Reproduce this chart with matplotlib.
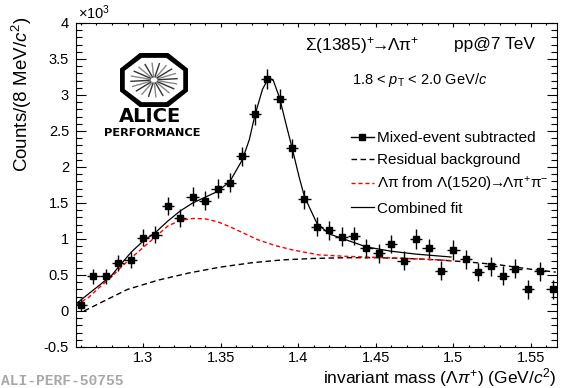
"""
Sigma(1385)+ -> Lambda pi+ invariant mass, ALICE performance plot
"""

import numpy as np
import matplotlib

matplotlib.use("Agg")
import matplotlib.pyplot as plt
from matplotlib.lines import Line2D
from matplotlib.patches import Polygon
from matplotlib.ticker import MultipleLocator, FormatStrFormatter

plt.rcParams["font.family"] = ["Liberation Sans", "DejaVu Sans"]
plt.rcParams["mathtext.fontset"] = "custom"
plt.rcParams["mathtext.rm"] = "Liberation Sans"
plt.rcParams["mathtext.it"] = "Liberation Sans:italic"
plt.rcParams["mathtext.bf"] = "Liberation Sans:bold"
plt.rcParams["axes.unicode_minus"] = False

# ── data (counts in units of 10^3, 8 MeV bins) ─────────────────
mass = [1.260, 1.268, 1.276, 1.284, 1.292, 1.300, 1.308, 1.316, 1.324, 1.332,
        1.340, 1.348, 1.356, 1.364, 1.372, 1.380, 1.388, 1.396, 1.404, 1.412,
        1.420, 1.428, 1.436, 1.444, 1.452, 1.460, 1.468, 1.476, 1.484, 1.492,
        1.500, 1.508, 1.516, 1.524, 1.532, 1.540, 1.548, 1.556, 1.564]
counts = [0.09, 0.48, 0.48, 0.67, 0.71, 1.02, 1.06, 1.46, 1.29, 1.59,
          1.53, 1.70, 1.78, 2.15, 2.73, 3.22, 2.95, 2.26, 1.55, 1.17,
          1.12, 1.03, 1.04, 0.87, 0.80, 0.93, 0.70, 1.00, 0.87, 0.56,
          0.85, 0.72, 0.54, 0.62, 0.49, 0.59, 0.30, 0.55, 0.30]
errors = [0.09, 0.10, 0.10, 0.11, 0.11, 0.12, 0.12, 0.13, 0.12, 0.13,
          0.13, 0.13, 0.13, 0.13, 0.14, 0.14, 0.14, 0.13, 0.13, 0.13,
          0.13, 0.13, 0.13, 0.13, 0.13, 0.13, 0.13, 0.14, 0.13, 0.13,
          0.14, 0.13, 0.13, 0.13, 0.13, 0.13, 0.13, 0.13, 0.13]
half_bin = 0.004

# combined fit
fit_m = [1.2568, 1.265, 1.272, 1.280, 1.2845, 1.2925, 1.300, 1.308, 1.316,
         1.324, 1.332, 1.340, 1.348, 1.356, 1.364, 1.3685, 1.372, 1.377,
         1.381, 1.384, 1.388, 1.392, 1.396, 1.4005, 1.404, 1.412, 1.420,
         1.428, 1.436, 1.444, 1.460, 1.476, 1.4985]
fit_v = [0.10, 0.24, 0.36, 0.50, 0.62, 0.82, 0.97, 1.09, 1.25,
         1.39, 1.50, 1.58, 1.66, 1.80, 2.10, 2.38, 2.71, 3.08,
         3.24, 3.20, 2.96, 2.61, 2.27, 1.87, 1.59, 1.22, 1.07,
         1.01, 0.95, 0.89, 0.83, 0.79, 0.75]

# residual background
bkg_m = [1.262, 1.275, 1.290, 1.310, 1.330, 1.350, 1.370, 1.390, 1.410,
         1.430, 1.450, 1.470, 1.490, 1.510, 1.530, 1.550, 1.566]
bkg_v = [0.00, 0.14, 0.30, 0.43, 0.53, 0.61, 0.67, 0.71, 0.73,
         0.74, 0.74, 0.73, 0.71, 0.68, 0.64, 0.58, 0.54]

# Lambda pi from Lambda(1520) reflection
refl_m = [1.2568, 1.265, 1.272, 1.280, 1.285, 1.2925, 1.300, 1.308, 1.316,
          1.324, 1.332, 1.340, 1.348, 1.356, 1.364, 1.374, 1.385, 1.396,
          1.413, 1.430, 1.450, 1.470, 1.490, 1.4985]
refl_v = [0.08, 0.19, 0.33, 0.48, 0.59, 0.74, 0.88, 1.03, 1.18,
          1.26, 1.285, 1.28, 1.24, 1.17, 1.09, 0.99, 0.91, 0.85,
          0.78, 0.76, 0.745, 0.73, 0.71, 0.70]

W, H = 571, 388
fig = plt.figure(figsize=(W / 100, H / 100), dpi=100)
ax = fig.add_axes([76 / W, 1 - 347 / H, (557 - 76) / W, (347 - 23) / H])

ax.plot(bkg_m, bkg_v, color="black", lw=1.0, dashes=(4, 2.5), zorder=2)
ax.plot(refl_m, refl_v, color="red", lw=1.0, dashes=(3, 2), zorder=2)
ax.plot(fit_m, fit_v, color="black", lw=0.9, zorder=3)
ax.errorbar(mass, counts, yerr=errors, xerr=half_bin, fmt="s", color="black",
            ms=4.8, elinewidth=1.0, capsize=0, zorder=4)

ax.set_xlim(1.2568, 1.5668)
ax.set_ylim(-0.5, 4.0)
ax.xaxis.set_major_locator(MultipleLocator(0.05))
ax.xaxis.set_minor_locator(MultipleLocator(0.01))
ax.yaxis.set_major_locator(MultipleLocator(0.5))
ax.yaxis.set_minor_locator(MultipleLocator(0.1))
ax.xaxis.set_major_formatter(FormatStrFormatter("%g"))
ax.yaxis.set_major_formatter(FormatStrFormatter("%g"))
ax.tick_params(which="both", direction="in", top=True, right=True,
               labelsize=10.5, width=0.8)
ax.tick_params(axis="x", which="major", length=3.2, pad=3.0)
ax.tick_params(axis="x", which="minor", length=1.7)
ax.tick_params(axis="y", which="major", length=7, pad=5)
ax.tick_params(axis="y", which="minor", length=4)
for s in ax.spines.values():
    s.set_linewidth(0.8)

# -- texts --
fig.text(78 / W, 1 - 13 / H, r"$\times$10$^{3}$", fontsize=10.5, va="center")
fig.text(22 / W, 1 - 17 / H, r"Counts/(8 MeV/$c^{2}$)", fontsize=13.5,
         rotation=90, ha="center", va="top")
fig.text(557 / W, 1 - 383 / H,
         r"invariant mass ($\Lambda\pi^{+}$) (GeV/$c^{2}$)",
         fontsize=12.5, ha="right", va="baseline")
fig.text(305 / W, 1 - 45 / H, r"Σ(1385)$^{+}\!\!\rightarrow\!\!$Λπ$^{+}$",
         fontsize=12.5, va="center")
fig.text(454 / W, 1 - 45 / H, "pp@7 TeV", fontsize=12.5, va="center")
fig.text(420 / W, 1 - 80 / H, r"1.8 < $p_{\mathrm{T}}$ < 2.0 GeV/$c$",
         fontsize=10.5, ha="center", va="center")
fig.text(1 / W, 1 - 381 / H, "ALI-PERF-50755", fontsize=10.5, color="#a8a8a8",
         family=["Liberation Mono", "DejaVu Sans Mono"], weight="bold",
         va="center")

# -- legend --
handles = [
    Line2D([], [], color="black", lw=1.0, marker="s", ms=4.5),
    Line2D([], [], color="black", lw=1.0, dashes=(4, 2.5)),
    Line2D([], [], color="red", lw=1.0, dashes=(3, 2)),
    Line2D([], [], color="black", lw=0.9),
]
labels = [
    "Mixed-event subtracted",
    "Residual background",
    r"Λπ from Λ(1520)$\!\!\rightarrow\!\!$Λπ$^{+}$π$^{-}$",
    "Combined fit",
]
fig.legend(handles, labels, loc="upper left",
           bbox_to_anchor=(351 / W, 1 - 131 / H), frameon=False,
           fontsize=11, handlelength=1.5, handletextpad=0.2,
           labelspacing=0.52, borderpad=0, borderaxespad=0)

# -- ALICE logo --
lx0, ly0, lw_, lh_ = 120, 53, 68, 54
logo = fig.add_axes([lx0 / W, 1 - (ly0 + lh_) / H, lw_ / W, lh_ / H])
logo.set_xlim(-1, 1)
logo.set_ylim(-1, 1)
logo.axis("off")
a = 0.42
octo = [(-a, 1), (a, 1), (1, a), (1, -a), (a, -1), (-a, -1), (-1, -a), (-1, a)]
logo.add_patch(Polygon(octo, closed=True, facecolor="black", edgecolor="none"))
inner = [(0.86 * x, 0.82 * y) for x, y in octo]
logo.add_patch(Polygon(inner, closed=True, facecolor="white", edgecolor="none"))
for k in range(20):
    ang = np.pi * k / 10 + 0.08
    col = "#333333" if k % 2 == 0 else "#888888"
    logo.plot([0.12 * np.cos(ang), 0.68 * np.cos(ang)],
              [0.12 * np.sin(ang), 0.62 * np.sin(ang)], color=col, lw=1.0)
fig.text(150 / W, 1 - 117 / H, "ALICE", fontsize=14, weight="bold",
         family="DejaVu Sans", ha="center", va="center")
fig.text(152 / W, 1 - 132.5 / H, "PERFORMANCE", fontsize=8.2, weight="bold",
         family="DejaVu Sans", ha="center", va="center")

fig.savefig("out.png", dpi=100)
